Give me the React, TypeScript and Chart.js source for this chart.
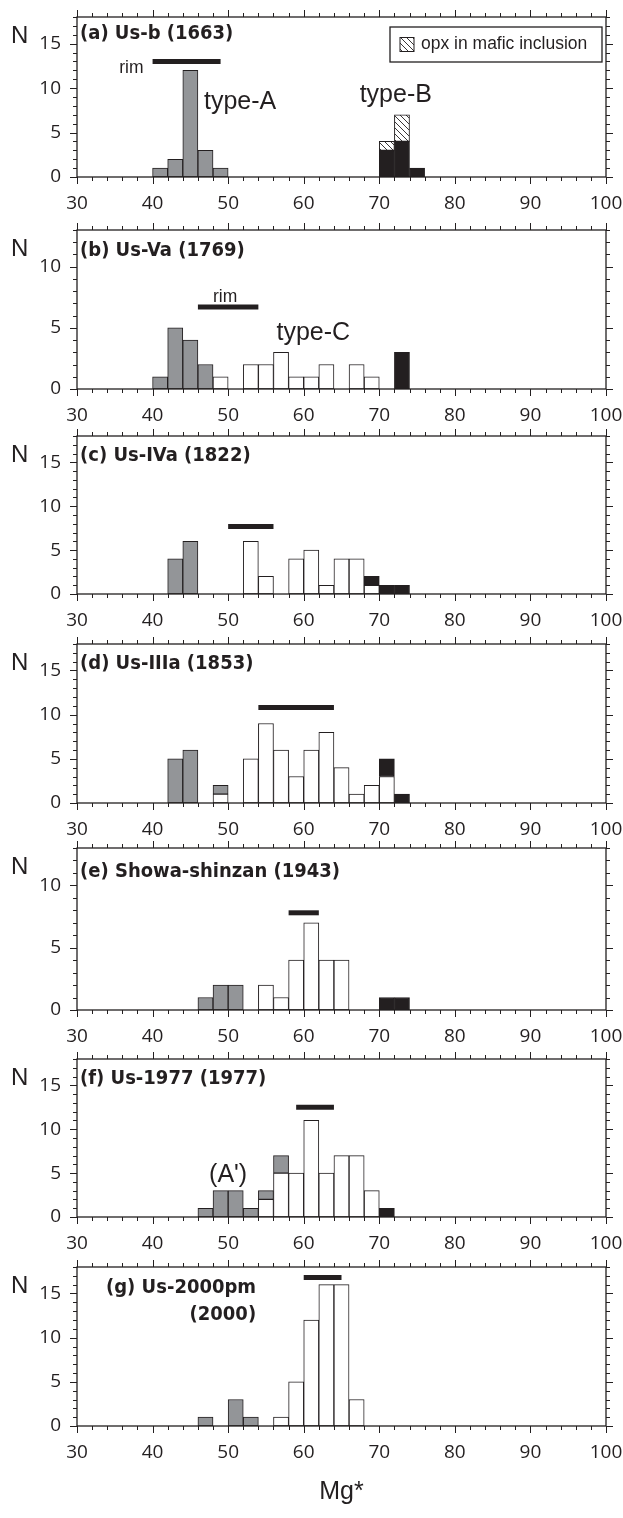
import React, { useEffect, useRef } from 'react';
import { Chart, registerables } from 'chart.js';

Chart.register(...registerables);

// ---------- data ----------
const BIN_WIDTH = 2;
const BIN_LEFT = [40, 42, 44, 46, 48, 50, 52, 54, 56, 58, 60, 62, 64, 66, 68, 70, 72, 74];
const X_MIN = 30;
const X_MAX = 100;

// (a) Us-b (1663)
const A_WHITE = [0, 0, 0, 0, 0, 0, 0, 0, 0, 0, 0, 0, 0, 0, 0, 0, 0, 0];
const A_GRAY = [1, 2, 12, 3, 1, 0, 0, 0, 0, 0, 0, 0, 0, 0, 0, 0, 0, 0];
const A_BLACK = [0, 0, 0, 0, 0, 0, 0, 0, 0, 0, 0, 0, 0, 0, 0, 3, 4, 1];
const A_HATCH = [0, 0, 0, 0, 0, 0, 0, 0, 0, 0, 0, 0, 0, 0, 0, 1, 3, 0];
// (b) Us-Va (1769)
const B_WHITE = [0, 0, 0, 0, 1, 0, 2, 2, 3, 1, 1, 2, 0, 2, 1, 0, 0, 0];
const B_GRAY = [1, 5, 4, 2, 0, 0, 0, 0, 0, 0, 0, 0, 0, 0, 0, 0, 0, 0];
const B_BLACK = [0, 0, 0, 0, 0, 0, 0, 0, 0, 0, 0, 0, 0, 0, 0, 0, 3, 0];
// (c) Us-IVa (1822)
const C_WHITE = [0, 0, 0, 0, 0, 0, 6, 2, 0, 4, 5, 1, 4, 4, 1, 0, 0, 0];
const C_GRAY = [0, 4, 6, 0, 0, 0, 0, 0, 0, 0, 0, 0, 0, 0, 0, 0, 0, 0];
const C_BLACK = [0, 0, 0, 0, 0, 0, 0, 0, 0, 0, 0, 0, 0, 0, 1, 1, 1, 0];
// (d) Us-IIIa (1853)
const D_WHITE = [0, 0, 0, 0, 1, 0, 5, 9, 6, 3, 6, 8, 4, 1, 2, 3, 0, 0];
const D_GRAY = [0, 5, 6, 0, 1, 0, 0, 0, 0, 0, 0, 0, 0, 0, 0, 0, 0, 0];
const D_BLACK = [0, 0, 0, 0, 0, 0, 0, 0, 0, 0, 0, 0, 0, 0, 0, 2, 1, 0];
// (e) Showa-shinzan (1943)
const E_WHITE = [0, 0, 0, 0, 0, 0, 0, 2, 1, 4, 7, 4, 4, 0, 0, 0, 0, 0];
const E_GRAY = [0, 0, 0, 1, 2, 2, 0, 0, 0, 0, 0, 0, 0, 0, 0, 0, 0, 0];
const E_BLACK = [0, 0, 0, 0, 0, 0, 0, 0, 0, 0, 0, 0, 0, 0, 0, 1, 1, 0];
// (f) Us-1977 (1977)
const F_WHITE = [0, 0, 0, 0, 0, 0, 0, 2, 5, 5, 11, 5, 7, 7, 3, 0, 0, 0];
const F_GRAY = [0, 0, 0, 1, 3, 3, 1, 1, 2, 0, 0, 0, 0, 0, 0, 0, 0, 0];
const F_BLACK = [0, 0, 0, 0, 0, 0, 0, 0, 0, 0, 0, 0, 0, 0, 0, 1, 0, 0];
// (g) Us-2000pm (2000)
const G_WHITE = [0, 0, 0, 0, 0, 0, 0, 0, 1, 5, 12, 16, 16, 3, 0, 0, 0, 0];
const G_GRAY = [0, 0, 0, 1, 0, 3, 1, 0, 0, 0, 0, 0, 0, 0, 0, 0, 0, 0];
const G_BLACK = [0, 0, 0, 0, 0, 0, 0, 0, 0, 0, 0, 0, 0, 0, 0, 0, 0, 0];

// rim ranges (thick bars)
const RIM_START = [40, 46, 50, 54, 58, 59, 60];
const RIM_END = [49, 54, 56, 64, 62, 64, 65];
const RIM_LEVEL = [13, 6.7, 7.7, 10.8, 7.8, 12.5, 16.8];

const Y_MAX = [18, 13, 18, 18, 13, 18, 18];
const TITLES = [
  '(a) Us-b (1663)',
  '(b) Us-Va (1769)',
  '(c) Us-IVa (1822)',
  '(d) Us-IIIa (1853)',
  '(e) Showa-shinzan (1943)',
  '(f) Us-1977 (1977)',
  '(g) Us-2000pm',
];
const LEGEND_LABEL = 'opx in mafic inclusion';
const X_TITLE = 'Mg*';
const Y_TITLE = 'N';

const WHITE = [A_WHITE, B_WHITE, C_WHITE, D_WHITE, E_WHITE, F_WHITE, G_WHITE];
const GRAYS = [A_GRAY, B_GRAY, C_GRAY, D_GRAY, E_GRAY, F_GRAY, G_GRAY];
const BLACKS = [A_BLACK, B_BLACK, C_BLACK, D_BLACK, E_BLACK, F_BLACK, G_BLACK];

// ---------- style / layout ----------
const INK = '#231f20';
const GRAY = '#939598';
const PLOT_TOP = [17, 230, 436, 644, 848, 1059, 1267];
const PLOT_H = [160, 159, 158, 159, 162, 158, 159];
const PAD_TOP = 14;
const X_AXIS_H = 44;
const CANVAS_W = 623;
const AREA_LEFT = 77;
const AREA_RIGHT_PAD = 17;

type Note = { text: string; x: number; y: number; font: string; align: CanvasTextAlign };
const TITLE_FONT = 'bold 20px "DejaVu Sans Condensed", "DejaVu Sans", sans-serif';
const BIG_FONT = '25px "Liberation Sans", Arial, sans-serif';
const SMALL_FONT = '17.5px "Liberation Sans", Arial, sans-serif';
const TICK_FONT = { family: '"Open Sans", sans-serif', size: 19 };

const NOTES: Note[][] = [
  [
    { text: TITLES[0], x: 30.4, y: 16.1, font: TITLE_FONT, align: 'left' },
    { text: 'rim', x: 38.8, y: 12.2, font: SMALL_FONT, align: 'right' },
    { text: 'type-A', x: 46.8, y: 8.4, font: BIG_FONT, align: 'left' },
    { text: 'type-B', x: 67.4, y: 9.2, font: BIG_FONT, align: 'left' },
  ],
  [
    { text: TITLES[1], x: 30.4, y: 11.3, font: TITLE_FONT, align: 'left' },
    { text: 'rim', x: 49.6, y: 7.5, font: SMALL_FONT, align: 'center' },
    { text: 'type-C', x: 56.4, y: 4.6, font: BIG_FONT, align: 'left' },
  ],
  [{ text: TITLES[2], x: 30.4, y: 15.7, font: TITLE_FONT, align: 'left' }],
  [{ text: TITLES[3], x: 30.4, y: 15.8, font: TITLE_FONT, align: 'left' }],
  [{ text: TITLES[4], x: 30.4, y: 11.1, font: TITLE_FONT, align: 'left' }],
  [
    { text: TITLES[5], x: 30.4, y: 15.7, font: TITLE_FONT, align: 'left' },
    { text: "(A')", x: 50.0, y: 4.8, font: BIG_FONT, align: 'center' },
  ],
  [
    { text: TITLES[6], x: 53.7, y: 15.6, font: TITLE_FONT, align: 'right' },
    { text: '(2000)', x: 53.7, y: 12.55, font: TITLE_FONT, align: 'right' },
  ],
];

function makeHatch(): CanvasPattern | string {
  const c = document.createElement('canvas');
  const s = 6;
  c.width = s;
  c.height = s;
  const g = c.getContext('2d');
  if (!g) return '#fff';
  g.fillStyle = '#fff';
  g.fillRect(0, 0, s, s);
  g.strokeStyle = INK;
  g.lineWidth = 0.9;
  g.beginPath();
  g.moveTo(-1, -1);
  g.lineTo(s + 1, s + 1);
  g.moveTo(-s / 2 - 1, s / 2 - 1);
  g.lineTo(s / 2 + 1, s * 1.5 + 1);
  g.moveTo(s / 2 - 1, -s / 2 - 1);
  g.lineTo(s * 1.5 + 1, s / 2 + 1);
  g.stroke();
  const p = g.createPattern(c, 'repeat');
  return p || '#fff';
}

const toPoints = (arr: number[]) =>
  BIN_LEFT.map((b, i) => ({ x: b + BIN_WIDTH / 2, y: arr[i] ? arr[i] : null }));

function makeDecor(idx: number, isLast: boolean, hatch: CanvasPattern | string) {
  return {
    id: 'decor' + idx,
    afterDatasetsDraw(chart: any) {
      const { ctx, chartArea: ca, scales } = chart;
      const x = scales.x;
      const y = scales.y;
      ctx.save();
      // frame
      ctx.strokeStyle = INK;
      ctx.lineWidth = 1.3;
      ctx.strokeRect(ca.left, ca.top, ca.right - ca.left, ca.bottom - ca.top);
      // ticks, outward on all four sides
      ctx.lineWidth = 1;
      ctx.beginPath();
      for (let v = X_MIN; v <= X_MAX; v += 2) {
        const px = Math.round(x.getPixelForValue(v)) + 0.5;
        const len = v % 10 === 0 ? 7 : 4;
        ctx.moveTo(px, ca.bottom);
        ctx.lineTo(px, ca.bottom + len);
        ctx.moveTo(px, ca.top);
        ctx.lineTo(px, ca.top - len);
      }
      for (let v = 0; v <= Y_MAX[idx]; v += 1) {
        const py = Math.round(y.getPixelForValue(v)) + 0.5;
        const len = v % 5 === 0 ? 7 : 4;
        ctx.moveTo(ca.left, py);
        ctx.lineTo(ca.left - len, py);
        ctx.moveTo(ca.right, py);
        ctx.lineTo(ca.right + len, py);
      }
      ctx.stroke();

      // y title
      ctx.fillStyle = INK;
      ctx.textBaseline = 'middle';
      ctx.textAlign = 'left';
      ctx.font = '24px "Liberation Sans", Arial, sans-serif';
      ctx.fillText(Y_TITLE, 11, ca.top + 19);

      // notes
      for (const n of NOTES[idx]) {
        ctx.font = n.font;
        ctx.textAlign = n.align;
        ctx.fillText(n.text, x.getPixelForValue(n.x), y.getPixelForValue(n.y));
      }

      // legend (panel a)
      if (idx === 0) {
        const bw = 212;
        const bh = 35;
        const bx = ca.right - 4 - bw;
        const by = ca.top + 10;
        ctx.fillStyle = '#fff';
        ctx.fillRect(bx, by, bw, bh);
        ctx.strokeStyle = INK;
        ctx.lineWidth = 1.3;
        ctx.strokeRect(bx, by, bw, bh);
        const s = 14;
        ctx.fillStyle = hatch as any;
        ctx.fillRect(bx + 10, by + (bh - s) / 2, s, s);
        ctx.lineWidth = 1;
        ctx.strokeRect(bx + 10, by + (bh - s) / 2, s, s);
        ctx.fillStyle = INK;
        ctx.font = SMALL_FONT;
        ctx.textAlign = 'left';
        ctx.fillText(LEGEND_LABEL, bx + 31, by + bh / 2);
      }

      // x title
      if (isLast) {
        ctx.font = '25px "Liberation Sans", Arial, sans-serif';
        ctx.textAlign = 'center';
        ctx.fillText(X_TITLE, (ca.left + ca.right) / 2, ca.bottom + 66);
      }
      ctx.restore();
    },
  };
}

function Panel({ idx }: { idx: number }) {
  const ref = useRef<HTMLCanvasElement>(null);
  const isLast = idx === PLOT_TOP.length - 1;
  const padBottom = isLast ? 50 : 0;
  const H = PAD_TOP + PLOT_H[idx] + X_AXIS_H + padBottom;
  const top = PLOT_TOP[idx] - PAD_TOP;

  useEffect(() => {
    if (!ref.current) return;
    const hatch = makeHatch();
    const barCommon = {
      type: 'bar' as const,
      borderColor: INK,
      borderWidth: 1,
      borderSkipped: false as const,
      barPercentage: 1,
      categoryPercentage: 1,
    };
    const datasets: any[] = [
      { ...barCommon, label: 'white', data: toPoints(WHITE[idx]), backgroundColor: '#ffffff' },
      { ...barCommon, label: 'gray', data: toPoints(GRAYS[idx]), backgroundColor: GRAY },
      { ...barCommon, label: 'black', data: toPoints(BLACKS[idx]), backgroundColor: INK },
    ];
    if (idx === 0) {
      datasets.push({ ...barCommon, label: LEGEND_LABEL, data: toPoints(A_HATCH), backgroundColor: hatch });
    }
    datasets.push({
      type: 'line',
      label: 'rim',
      stack: 'rim',
      data: [
        { x: RIM_START[idx], y: RIM_LEVEL[idx] },
        { x: RIM_END[idx], y: RIM_LEVEL[idx] },
      ],
      borderColor: INK,
      borderWidth: 5,
      borderCapStyle: 'butt',
      pointRadius: 0,
      fill: false,
    });

    const chart = new Chart(ref.current, {
      type: 'bar',
      data: { datasets },
      options: {
        animation: false,
        responsive: false,
        devicePixelRatio: 1,
        events: [],
        layout: { padding: { left: 0, right: AREA_RIGHT_PAD, top: PAD_TOP, bottom: padBottom } },
        plugins: { legend: { display: false }, tooltip: { enabled: false } },
        scales: {
          x: {
            type: 'linear',
            min: X_MIN,
            max: X_MAX,
            stacked: true,
            offset: false,
            grid: { display: false, drawTicks: false, offset: false },
            border: { display: false },
            ticks: { stepSize: 10, padding: 15, font: TICK_FONT, color: INK, maxRotation: 0, autoSkip: false },
            afterFit: (s: any) => {
              s.height = X_AXIS_H;
              s.paddingLeft = 0;
              s.paddingRight = 0;
            },
          },
          y: {
            type: 'linear',
            min: 0,
            max: Y_MAX[idx],
            stacked: true,
            grid: { display: false, drawTicks: false },
            border: { display: false },
            ticks: { stepSize: 5, includeBounds: false, padding: 16, font: TICK_FONT, color: INK },
            afterFit: (s: any) => {
              s.width = AREA_LEFT;
              s.paddingTop = 0;
              s.paddingBottom = 0;
            },
          },
        },
      } as any,
      plugins: [makeDecor(idx, isLast, hatch) as any],
    });
    return () => chart.destroy();
  }, [idx]);

  return (
    <canvas
      ref={ref}
      width={CANVAS_W}
      height={H}
      style={{ position: 'absolute', left: 0, top, width: CANVAS_W, height: H }}
    />
  );
}

export default function App() {
  return (
    <div style={{ position: 'absolute', left: 0, top: 0, width: 623, height: 1518, background: '#fff' }}>
      {PLOT_TOP.map((_, i) => (
        <Panel key={i} idx={i} />
      ))}
    </div>
  );
}
